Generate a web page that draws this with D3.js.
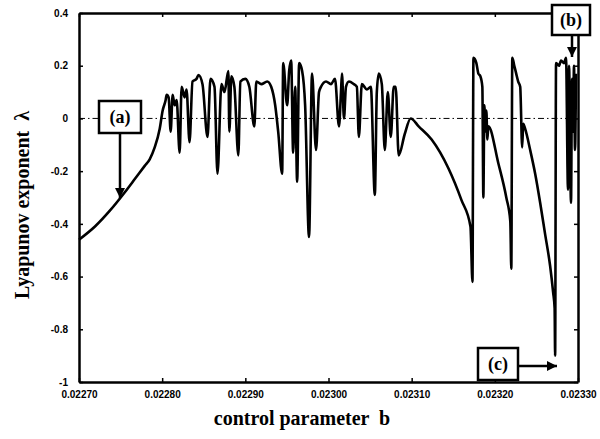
<!DOCTYPE html>
<html><head><meta charset="utf-8">
<script src="https://cdn.jsdelivr.net/npm/d3@7"></script>
<style>body{margin:0;background:#fff}svg{display:block}</style>
</head><body>
<svg id="c" width="600" height="439"></svg>
<script>
const bValues = [0.0227000,0.0227192,0.0227371,0.0227551,0.0227671,0.0227790,0.0227850,0.0227910,0.0227970,0.0228006,0.0228042,0.0228054,
0.0228078,0.0228102,0.0228126,0.0228150,0.0228174,0.0228210,0.0228234,0.0228270,0.0228293,0.0228329,0.0228365,0.0228413,0.0228437,0.0228485,
0.0228545,0.0228581,0.0228629,0.0228665,0.0228713,0.0228749,0.0228796,0.0228808,0.0228832,0.0228868,0.0228916,0.0228940,0.0229000,0.0229048,
0.0229108,0.0229132,0.0229192,0.0229263,0.0229311,0.0229359,0.0229395,0.0229443,0.0229455,0.0229503,0.0229527,0.0229551,0.0229575,0.0229599,
0.0229623,0.0229647,0.0229683,0.0229719,0.0229766,0.0229802,0.0229850,0.0229886,0.0229910,0.0229970,0.0230030,0.0230078,0.0230126,0.0230150,
0.0230162,0.0230186,0.0230210,0.0230246,0.0230305,0.0230341,0.0230365,0.0230401,0.0230461,0.0230509,0.0230557,0.0230581,0.0230605,0.0230641,
0.0230677,0.0230713,0.0230749,0.0230784,0.0230808,0.0230844,0.0230916,0.0230988,0.0231084,0.0231240,0.0231443,0.0231599,0.0231707,0.0231731,
0.0231743,0.0231778,0.0231802,0.0231826,0.0231850,0.0231862,0.0231874,0.0231886,0.0231898,0.0231910,0.0231922,0.0232042,0.0232138,0.0232186,
0.0232198,0.0232210,0.0232234,0.0232257,0.0232281,0.0232305,0.0232329,0.0232341,0.0232365,0.0232425,0.0232485,0.0232545,0.0232605,0.0232665,
0.0232701,0.0232719,0.0232725,0.0232736,0.0232772,0.0232796,0.0232832,0.0232856,0.0232880,0.0232892,0.0232916,0.0232928,0.0232940,0.0232952,
0.0232964,0.0232976];
const lambdaValues = [-0.46,-0.41,-0.35,-0.28,-0.23,-0.18,-0.155,-0.11,-0.04,0.03,0.07,0.09,
0.08,-0.05,0.09,0.05,0.07,-0.13,0.12,0.08,0.11,-0.09,0.14,0.15,0.165,0.13,
-0.07,0.15,0.12,-0.21,0.13,0.10,0.18,-0.05,0.16,0.12,-0.14,0.14,0.15,0.12,
-0.03,0.14,0.13,0.14,0.12,0.05,-0.05,-0.21,0.21,0.05,0.18,0.22,-0.13,0.12,
-0.24,0.21,0.18,0.05,-0.45,0.17,-0.12,0.10,0.12,0.14,0.13,0.15,-0.03,0.10,
0.17,0.00,0.12,0.14,0.13,0.12,-0.07,0.13,0.11,0.12,-0.29,0.10,0.17,0.13,
-0.12,0.10,-0.07,0.12,0.12,-0.14,-0.06,0.00,-0.03,-0.08,-0.19,-0.31,-0.41,-0.62,
0.23,0.21,0.17,0.16,0.12,-0.30,0.05,-0.05,0.03,-0.08,-0.03,-0.17,-0.30,-0.39,
-0.57,0.23,0.20,0.17,0.14,0.12,-0.11,-0.02,-0.04,-0.12,-0.21,-0.32,-0.44,-0.56,
-0.66,-0.72,-0.90,0.21,0.20,0.22,0.21,0.23,-0.27,0.20,-0.32,0.15,-0.05,0.20,
-0.12,0.17];
const xTicks = [0.02270,0.02280,0.02290,0.02300,0.02310,0.02320,0.02330];
const yTicks = [0.4,0.2,0,-0.2,-0.4,-0.6,-0.8,-1];
const xTitle = "control parameter  b";
const yTitle = "Lyapunov exponent  λ";

const svg = d3.select("#c");
const L=79,R=578,T=13,B=382;
const x = d3.scaleLinear().domain([0.0227,0.0233]).range([L,R]);
const y = d3.scaleLinear().domain([-1,0.4]).range([B,T]);
const data = bValues.map((b,i)=>({b, l: lambdaValues[i]}));

const defs = svg.append("defs");
defs.append("marker").attr("id","ah").attr("viewBox","0 0 10 10").attr("refX",10).attr("refY",5)
 .attr("markerWidth",4).attr("markerHeight",4).attr("markerUnits","strokeWidth").attr("orient","auto")
 .append("path").attr("d","M0,0L10,5L0,10Z").attr("fill","#000");

// zero line
svg.append("line").attr("x1",L).attr("x2",R).attr("y1",y(0)).attr("y2",y(0))
 .attr("stroke","#000").attr("stroke-width",1).attr("stroke-dasharray","6,3,1.5,3");

// curve
svg.append("path").datum(data).attr("fill","none").attr("stroke","#000").attr("stroke-width",2.6)
 .attr("stroke-linejoin","round")
 .attr("d", d3.line().curve(d3.curveMonotoneX).x(d=>x(d.b)).y(d=>y(d.l)));

// axes
const fmtY = d => String(+d.toFixed(1));
const tickFont = g => g.selectAll("text").attr("font-family","Liberation Sans, Arial, sans-serif")
  .attr("font-weight","bold").attr("font-size","10px").attr("fill","#000");
const gb = svg.append("g").attr("transform",`translate(0,${B})`)
 .call(d3.axisBottom(x).tickValues(xTicks).tickFormat(d3.format(".5f")).tickSizeInner(-4).tickSizeOuter(0).tickPadding(9));
const gt = svg.append("g").attr("transform",`translate(0,${T})`)
 .call(d3.axisTop(x).tickValues(xTicks).tickFormat("").tickSizeInner(-4).tickSizeOuter(0));
const gl = svg.append("g").attr("transform",`translate(${L},0)`)
 .call(d3.axisLeft(y).tickValues(yTicks).tickFormat(fmtY).tickSizeInner(-4).tickSizeOuter(0).tickPadding(11));
const gr = svg.append("g").attr("transform",`translate(${R},0)`)
 .call(d3.axisRight(y).tickValues(yTicks).tickFormat("").tickSizeInner(-4).tickSizeOuter(0));
[gb,gt,gl,gr].forEach(g=>{
  g.select(".domain").attr("stroke","#000").attr("stroke-width",2.5);
  g.selectAll(".tick line").attr("stroke","#000").attr("stroke-width",1.5);
  tickFont(g);
});

// titles
svg.append("text").attr("x",302).attr("y",425).attr("text-anchor","middle")
 .attr("font-family","Liberation Serif, Times New Roman, serif").attr("font-weight","bold").attr("font-size","20px")
 .style("white-space","pre").text(xTitle);
svg.append("text").attr("transform","translate(29,205) rotate(-90)").attr("text-anchor","middle")
 .attr("font-family","Liberation Serif, Times New Roman, serif").attr("font-weight","bold").attr("font-size","20px")
 .style("white-space","pre").text(yTitle);

// annotations
function box(x0,y0,w,h,label){
  svg.append("rect").attr("x",x0).attr("y",y0).attr("width",w).attr("height",h)
   .attr("fill","#fff").attr("stroke","#000").attr("stroke-width",2.5);
  svg.append("text").attr("x",x0+w/2).attr("y",y0+h/2+6).attr("text-anchor","middle")
   .attr("font-family","Liberation Serif, Times New Roman, serif").attr("font-weight","bold").attr("font-size","18px").text(label);
}
function arrow(x1,y1,x2,y2){
  svg.append("line").attr("x1",x1).attr("y1",y1).attr("x2",x2).attr("y2",y2)
   .attr("stroke","#000").attr("stroke-width",2.5).attr("marker-end","url(#ah)");
}
box(99,101,42,32,"(a)"); arrow(120,133,120,198);
box(552,5,38,30,"(b)"); arrow(572,35,572,57);
box(478,348,40,32,"(c)"); arrow(518,366,557,366);
</script>
</body></html>
